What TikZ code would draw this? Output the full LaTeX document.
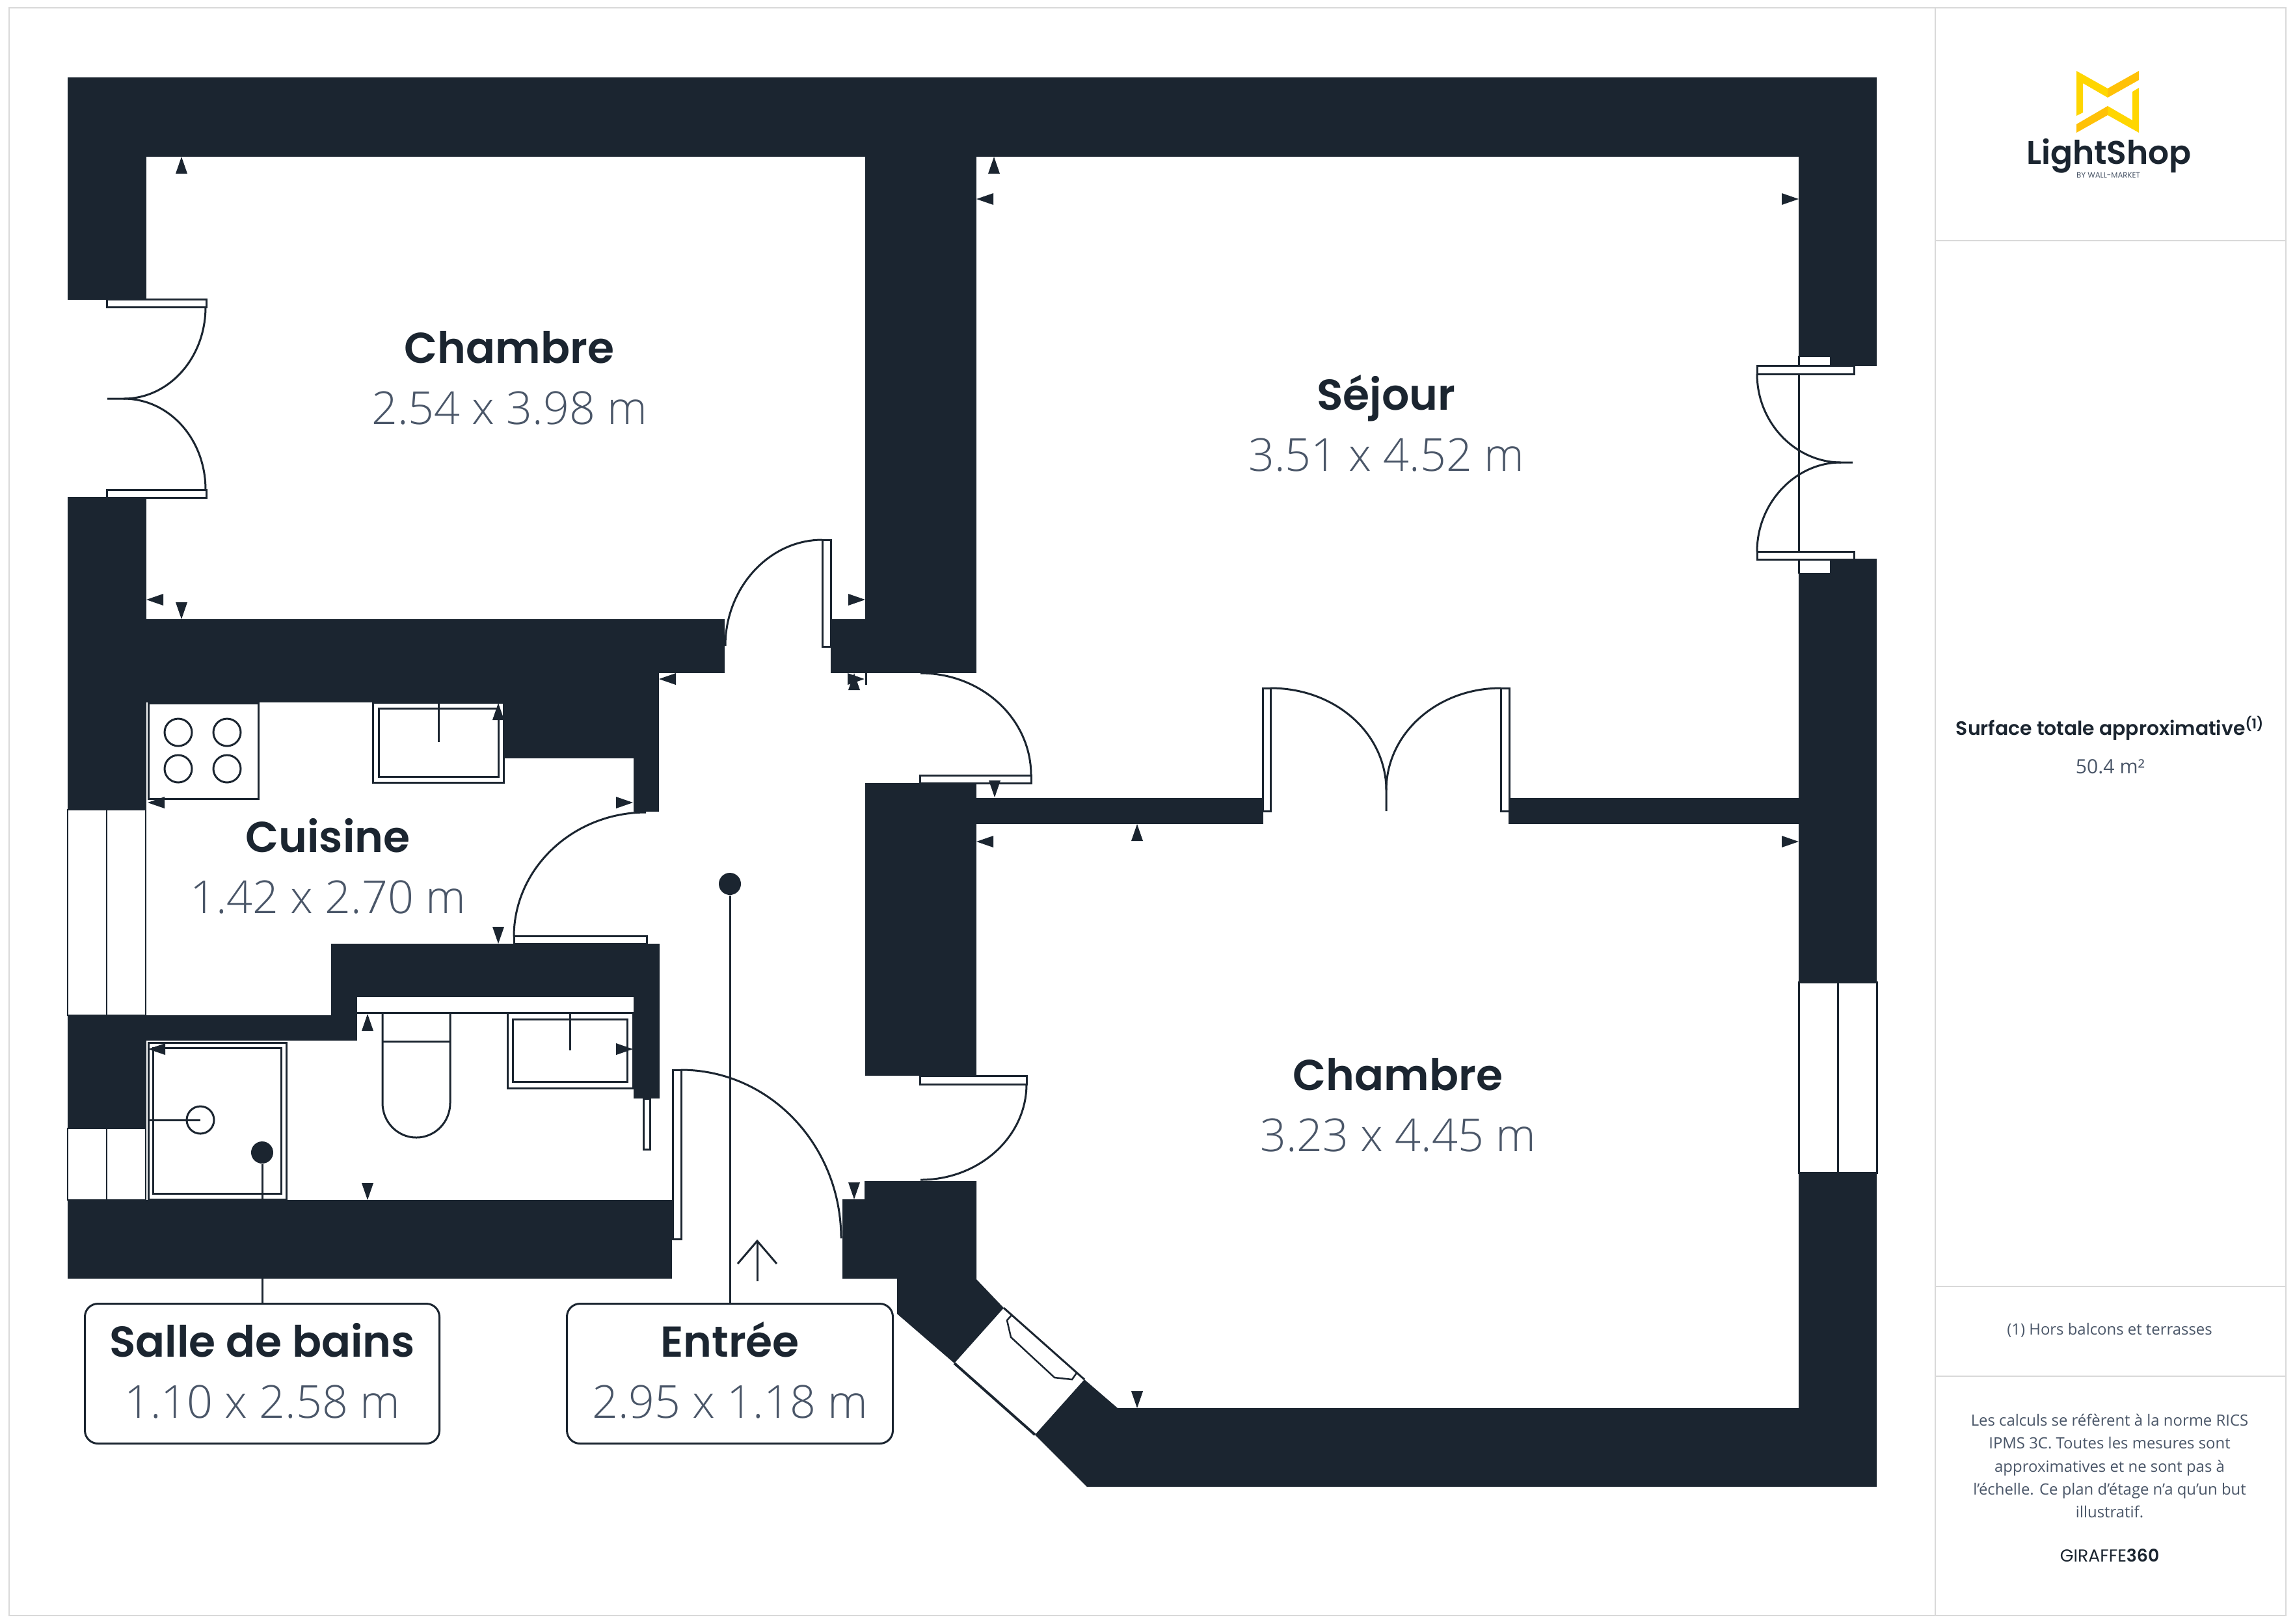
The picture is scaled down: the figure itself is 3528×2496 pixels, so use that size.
\documentclass[tikz,border=0pt]{standalone}
\usepackage{fontspec}
\setmainfont{Open Sans}
\newfontfamily\titlefont{Poppins SemiBold}
\newfontfamily\popfont{Poppins}
\newfontfamily\dimfont{Open Sans Light}
\usetikzlibrary{positioning}

\definecolor{inkc}{HTML}{1B2530}
\definecolor{dimc}{HTML}{4A5668}
\definecolor{framec}{HTML}{D9D9D9}
\definecolor{goldc}{HTML}{FFD600}
\definecolor{amberc}{HTML}{FFC107}

\tikzset{
	wall/.style={fill=inkc},
	fixture/.style={draw=inkc,line width=0.3mm},
	leaf/.style={draw=inkc,fill=white,line width=0.3mm},
	roomname/.style={font=\titlefont\fontsize{18.9}{24}\selectfont,text=inkc,inner sep=0pt,anchor=base},
	roomsize/.style={font=\dimfont\fontsize{19.9}{24}\selectfont,text=dimc,inner sep=0pt,anchor=base},
	labelbox/.style={draw=inkc,fill=white,line width=0.3mm,rounded corners=2mm,minimum height=21.5mm,inner sep=0pt},
	dot/.style={circle,fill=inkc,minimum size=3.4mm,inner sep=0pt},
	paneltext/.style={font=\fontsize{6.8}{10}\selectfont,text=dimc,align=center,inner sep=0pt},
}

\begin{document}
\begin{tikzpicture}[x=0.1mm,y=-0.1mm]
\useasboundingbox (0,0) rectangle (3528,2496);
\fill[white] (0,0) rectangle (3528,2496);

\draw[framec,line width=0.25mm] (14,12) rectangle (3514,2484);
\draw[framec,line width=0.25mm] (2975,12)--(2975,2484);
\foreach \y in {370,1978,2116}{
	\draw[framec,line width=0.25mm] (2975,\y)--(3514,\y);
}

% walls
\foreach \a/\b/\c/\d in {104/119/2885/241,104/241/225/461,104/764/225/1245,225/952/1114/1035,225/1035/1013/1080,
	775/1080/1013/1166,974/1166/1013/1248,104/1561/225/1735,225/1561/549/1600,509/1451/1014/1533,509/1533/549/1600,
	974/1533/1014/1689,104/1845/1033/1966,1330/241/1501/1035,1277/952/1330/1035,2765/241/2885/547,2813/547/2885/563,
	2813/859/2885/882,2765/882/2885/1510,2765/1803/2885/2286,1330/1204/1501/1654,1501/1227/1942/1267,2319/1227/2765/1267}{
	\fill[wall](\a,\b) rectangle (\c,\d);
}
\fill[wall] (1329,1816)--(1501,1816)--(1501,1967)--(1543,2011)--(1467,2096)--(1379,2020)--(1379,1966)--(1295,1966)--(1295,1844)--(1329,1844)--cycle;
\fill[wall] (1667,2121)--(1718,2165)--(2765,2165)--(2765,2286)--(1671,2286)--(1591,2206)--cycle;

% windows
\foreach \a/\b/\c/\d in {104/1245/224/1561,104/1735/224/1845}{
	\draw[fixture,line width=0.2mm](\a,\b) rectangle (\c,\d);
	\draw[fixture,line width=0.2mm]({(\a+\c)/2},\b)--({(\a+\c)/2},\d);
}
\draw[fixture] (2765,1510) rectangle (2885,1803);
\draw[fixture] (2825,1510)--(2825,1803);
\draw[fixture] (2765,547)--(2765,882);
\draw[fixture] (2767,547)--(2813,547);
\draw[fixture] (2767,882)--(2813,882);
\draw[fixture] (1543,2011)--(1667,2121);
\draw[inkc,line width=0.4mm] (1467,2096)--(1591,2206);
\draw[fixture,line width=0.25mm] (1556,2021)--(1548,2030)--(1554,2056)--(1621,2118)--(1648,2121)--(1655,2111);

% door leaves
\foreach \a/\b/\c/\d in {164/460/317/472,164/753/317/765,2701/562/2850/575,2701/848/2850/860,1264/830/1277/994,
	1414/1192/1585/1204,1414/1654/1578/1667,790/1439/994/1451,989/1689/999/1767,1034/1645/1047/1905,1941/1058/1953/1247,2307/1058/2320/1247}{
	\draw[leaf](\a,\b) rectangle (\c,\d);
}
\draw[fixture] (165,613)--(190,613) .. controls (260,613) and (316,550) .. (316,472);
\draw[fixture] (190,613) .. controls (260,613) and (316,675) .. (316,753);
\draw[fixture] (2848,711)--(2830,711) .. controls (2760,711) and (2701,650) .. (2701,575);
\draw[fixture] (2830,711) .. controls (2760,711) and (2701,773) .. (2701,848);
\draw[fixture] (1264,830) .. controls (1182,830) and (1115,904) .. (1115,993);
\draw[fixture] (1415,1035) .. controls (1509,1035) and (1585,1105) .. (1585,1192);
\draw[fixture] (1578,1667) .. controls (1578,1748) and (1505,1814) .. (1415,1814);
\draw[fixture] (993,1249) .. controls (881,1249) and (790,1335) .. (790,1440);
\draw[fixture] (1047,1645) .. controls (1183,1645) and (1293,1761) .. (1293,1904);
\draw[fixture] (2131,1247)--(2131,1215) .. controls (2131,1128) and (2053,1058) .. (1953,1058);
\draw[fixture] (2131,1215) .. controls (2131,1128) and (2209,1058) .. (2307,1058);

% kitchen and bathroom
\draw[leaf] (228,1081) rectangle (397,1228);
\foreach \x/\y in {274/1126,349/1126,274/1182,349/1182}{
	\draw[fixture](\x,\y) circle (21);
}
\foreach \a/\b/\c/\d/\e/\f/\g/\h/\t/\l in {573/1080/774/1203/582/1089/766/1194/674/1141,780/1557/973/1673/788/1567/964/1663/876/1615}{
	\draw[leaf](\a,\b) rectangle (\c,\d);
	\draw[fixture](\e,\f) rectangle (\g,\h);
	\draw[fixture](\t,\b)--(\t,\l);
}
\draw[fixture] (549,1557)--(974,1557);
\draw[fixture] (692,1557)--(692,1696) .. controls (692,1725) and (669,1749) .. (640,1749) .. controls (611,1749) and (588,1725) .. (588,1696)--(588,1557);
\draw[fixture] (588,1601)--(692,1601);
\draw[leaf] (228,1603) rectangle (440,1844);
\draw[fixture] (235,1611) rectangle (432,1835);
\draw[fixture] (308,1722) circle (21);
\draw[fixture] (228,1722)--(308,1722);

% measure ticks
\foreach \x/\y/\r in {279/241/90,225/922/180,279/952/270,1330/922/0,1013/1044/180,1329/1044/0,1313/1035/90,766/1081/90,
	227/1234/180,973/1234/0,766/1451/270,565/1559/90,228/1613/180,973/1613/0,565/1845/270,1313/1844/270,1528/241/90,
	1501/306/180,2765/306/0,1529/1226/270,1501/1294/180,2765/1294/0,1748/1267/90,1748/2165/270}{
	\fill[wall,shift={(\x,\y)},rotate=\r] (0,0)--(-26,9)--(-26,-9)--cycle;
}
\draw[fixture] (1331,1035)--(1331,1053);

% entrance arrow
\coordinate (entrybase) at (1164,1970);
\coordinate (entrytip) at (1164,1908);
\draw[fixture] (entrybase)--(entrytip);
\draw[fixture] (1134,1943)--(entrytip)--(1194,1943);

% leaders and boxes
\node[dot](baindot) at (403,1772) {};
\node[dot](entreedot) at (1122,1359) {};
\node[labelbox,minimum width=54.5cm/10](bainbox) at (403,2112) {};
\node[labelbox,minimum width=50.1cm/10](entreebox) at (1122,2112) {};
\draw[fixture] (baindot)--(bainbox);
\draw[fixture] (entreedot)--(entreebox);

% room labels
\foreach[count=\c] \x/\y/\n/\d in {783/558/Chambre/2.54 x 3.98 m,2131/630/Séjour/3.51 x 4.52 m,504/1310/Cuisine/1.42 x 2.70 m,
	2149/1676/Chambre/3.23 x 4.45 m,403/2086/Salle de bains/1.10 x 2.58 m,1122/2086/Entrée/2.95 x 1.18 m}{
	\node[roomname](room\c) at (\x,\y) {\n};
	\node[roomsize](size\c) at (\x,\y+94) {\d};
}

% side panel
\fill[goldc] (3192,109)--(3240,136)--(3240,150)--(3202,128)--(3202,173)--(3192,178)--cycle;
\fill[amberc] (3240,136)--(3288,109)--(3288,123)--(3240,150)--cycle;
\fill[goldc] (3240,163)--(3278,185)--(3278,141)--(3288,135)--(3288,204)--(3240,177)--cycle;
\fill[amberc] (3192,191)--(3240,163)--(3240,177)--(3192,204)--cycle;
\node[font=\titlefont\fontsize{14.3}{16}\selectfont,text=inkc,inner sep=0pt](logo) at (3242,240) {LightShop};
\node[font=\popfont\fontsize{3.35}{4}\selectfont,text=dimc,inner sep=0pt](logosub) at (3241,269) {BY WALL-MARKET};
\node[font=\titlefont\fontsize{8.5}{9}\selectfont,text=inkc,inner sep=0pt](surface) at (3244,1120) {Surface totale approximative\textsuperscript{(1)}};
\node[paneltext,font=\fontsize{8.6}{10}\selectfont](surfacev) at (3244,1179) {50.4 m²};
\node[paneltext](note) at (3243,2045) {(1) Hors balcons et terrasses};
\node[paneltext](legal) at (3243,2254) {Les calculs se réfèrent à la norme RICS\\IPMS 3C. Toutes les mesures sont\\approximatives et ne sont pas à\\l’échelle. Ce plan d’étage n’a qu’un but\\illustratif.};
\node[font=\popfont\fontsize{7.6}{8}\selectfont,text=inkc,inner sep=0pt](brand) at (3243,2392) {GIRAFFE{\titlefont 360}};
\end{tikzpicture}
\end{document}
